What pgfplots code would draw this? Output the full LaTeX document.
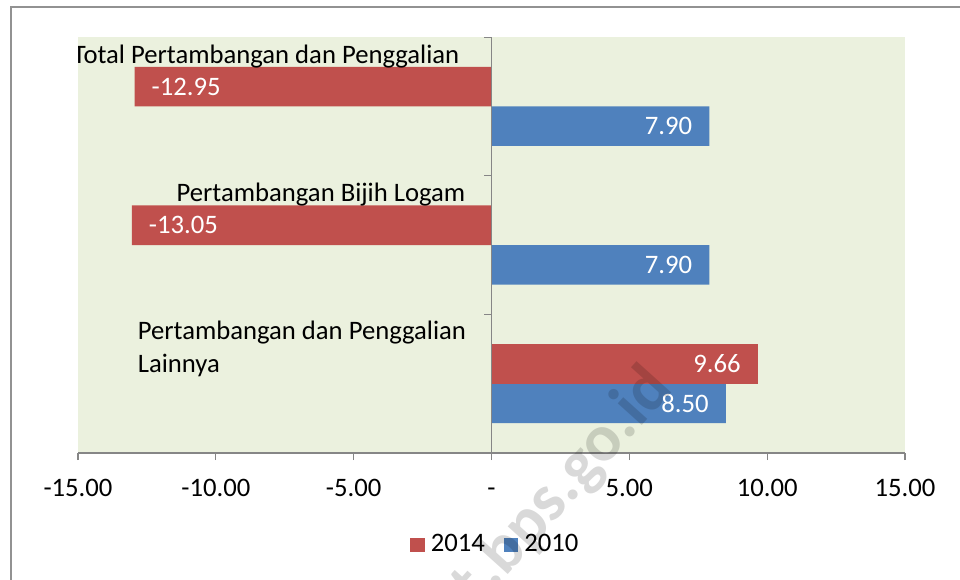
\documentclass[border=0pt]{standalone}
\usepackage{pgfplots}
\pgfplotsset{compat=1.18}
\usepackage{fontspec}
\setmainfont{Carlito}
\definecolor{bg}{HTML}{EBF1DE}
\definecolor{cred}{HTML}{C0504D}
\definecolor{cblue}{HTML}{4F81BD}
\definecolor{axgray}{HTML}{868686}
\begin{document}
\fontsize{20}{24}\selectfont
\begin{tikzpicture}[font=\fontsize{20}{24}\selectfont]
\useasboundingbox (0,0) rectangle (720pt,-435pt);
\draw[axgray!90, line width=1pt] (8.25pt,-445pt) -- (8.25pt,-5.25pt) -- (730pt,-5.25pt);
\begin{axis}[
  at={(58.5pt,-339.75pt)}, anchor=south west,
  scale only axis, width=620.25pt, height=312pt,
  xmin=-15, xmax=15, ymin=0, ymax=3, y dir=reverse,
  xbar, bar width=0.285, bar shift=0pt,
  axis background/.style={fill=bg},
  axis line style={draw=none},
  xtick={-15,-10,-5,0,5,10,15},
  xticklabels={-15.00,-10.00,-5.00,-,5.00,10.00,15.00},
  xtick pos=left,
  tick align=outside,
  major tick length=5.25pt,
  xtick style={axgray, line width=0.9pt},
  ytick=\empty,
  typeset ticklabels with strut,
  xticklabel style={font=\fontsize{20}{24}\selectfont, yshift=-4pt},
  legend style={at={(0.505,-0.221)}, anchor=center, draw=none, fill=none,
    font=\fontsize{20}{24}\selectfont,
    /tikz/every even column/.append style={column sep=12pt}},
  legend columns=2,
  legend cell align=left,
  sq legend/.style={legend image code/.code={\fill[##1,draw=none] (0pt,-5.5pt) rectangle (11pt,5.5pt);}},
]
\addplot[fill=cred, draw=none, bar shift=0pt, sq legend, nodes near coords, point meta=explicit symbolic,
  nodes near coords style={anchor=west, xshift=6pt, text=white}]
  coordinates {(-12.95,0.3575)[-12.95] (-13.05,1.3575)[-13.05]};
\addlegendentry{\hspace{2.5pt}2014}
\addplot[fill=cblue, draw=none, bar shift=0pt, sq legend, nodes near coords, point meta=explicit symbolic,
  nodes near coords style={anchor=east, xshift=-6pt, text=white}]
  coordinates {(7.90,0.6425)[7.90] (7.90,1.6425)[7.90] (8.50,2.6425)[8.50]};
\addlegendentry{\hspace{2.5pt}2010}
\addplot[fill=cred, draw=none, bar shift=0pt, forget plot, nodes near coords, point meta=explicit symbolic,
  nodes near coords style={anchor=east, xshift=-6pt, text=white}]
  coordinates {(9.66,2.3575)[9.66]};
\draw[axgray, line width=0.9pt] (axis cs:-15,3) -- (axis cs:15,3);
\draw[axgray, line width=0.9pt] (axis cs:0,0) -- (axis cs:0,3);
\pgfplotsinvokeforeach{0,1,2,3}{\draw[axgray, line width=0.9pt] (axis cs:0,#1) -- ++(-6pt,0pt);}
\node[anchor=base east, inner sep=0pt] at (axis cs:-1.16,0.1875) {Total Pertambangan dan Penggalian};
\node[anchor=base east, inner sep=0pt] at (axis cs:-0.94,1.183) {Pertambangan Bijih Logam};
\node[anchor=base west, inner sep=0pt] at (axis cs:-12.84,2.185) {Pertambangan dan Penggalian};
\node[anchor=base west, inner sep=0pt] at (axis cs:-12.84,2.42) {Lainnya};
\end{axis}
\node[rotate=48, anchor=base east, inner sep=0pt, text=black, text opacity=0.15, font=\bfseries\fontsize{50}{50}\selectfont] at (506pt,-292pt) {t.bps.go.id};
\end{tikzpicture}
\end{document}
